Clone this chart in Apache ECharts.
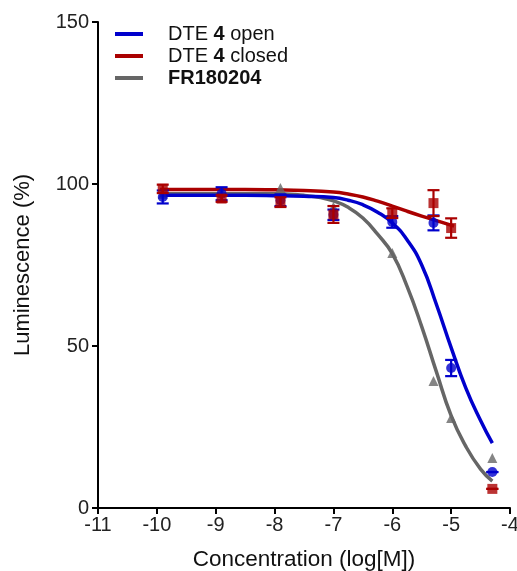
<!DOCTYPE html>
<html>
<head>
<meta charset="utf-8">
<script src="https://cdn.jsdelivr.net/npm/echarts@6/dist/echarts.min.js"></script>
<style>
html,body{margin:0;padding:0;background:#fff;}
#chart{width:517px;height:571px;}
</style>
</head>
<body>
<div id="chart"></div>
<script>
// ---- data ----
const seriesNames = ['DTE 4 open', 'DTE 4 closed', 'FR180204'];
const concLog = [-9.9, -8.9, -7.9, -7.0, -6.0, -5.3, -5.0, -4.3];

const openMean   = [96.0, 97.0, 95.0, 90.5, 88.3, 88.0, 43.2, 11.1];
const openErr    = [2.0, 2.0, 1.8, 1.6, 1.8, 2.3, 2.5, 0.0];
const closedMean = [98.5, 95.5, 94.4, 90.6, 91.0, 94.1, 86.4, 5.9];
const closedErr  = [1.3, 1.0, 1.5, 2.6, 1.5, 4.0, 3.0, 0.0];
const frMean     = [97.0, 97.5, 98.8, 93.0, 78.7, 39.2, 27.8, 15.4];

// fitted curves
const openCurveX   = [-9.95, -9.5, -9, -8.5, -8, -7.5, -7, -6.75, -6.5, -6.25, -6, -5.75, -5.5, -5.25, -5, -4.75, -4.5, -4.3];
const openCurveY   = [96.5, 96.5, 96.5, 96.5, 96.4, 96.2, 95.8, 95.0, 93.6, 91.3, 88, 82.8, 75, 62.8, 49.5, 37, 27, 20];
const closedCurveX = [-9.95, -9.5, -9, -8.5, -8, -7.5, -7, -6.75, -6.5, -6.25, -6, -5.75, -5.5, -5.25, -4.95];
const closedCurveY = [98.3, 98.3, 98.3, 98.3, 98.2, 98.0, 97.5, 96.9, 96.0, 94.7, 93.2, 91.6, 90.1, 88.7, 87];
const frCurveX     = [-9.95, -9.5, -9, -8.5, -8, -7.5, -7.25, -7, -6.75, -6.5, -6.25, -6, -5.75, -5.5, -5.25, -5, -4.75, -4.5, -4.3];
const frCurveY     = [97, 97, 97, 97, 97, 96.5, 95.9, 94.8, 92.8, 89.5, 84.5, 78.5, 68.5, 56, 42, 28.5, 19, 12, 8.3];

const xTicks = [-11, -10, -9, -8, -7, -6, -5, -4];
const yTicks = [0, 50, 100, 150];

const colors = { open: '#0000cc', closed: '#aa0000', fr: '#666666' };

function zip(xs, ys) { return xs.map((x, i) => [x, ys[i]]); }
function errData(xs, m, e) { return xs.map((x, i) => [x, m[i] - e[i], m[i] + e[i]]); }

function errRender(color) {
  return function (params, api) {
    const x = api.value(0);
    const lo = api.coord([x, api.value(1)]);
    const hi = api.coord([x, api.value(2)]);
    const w = 6;
    const st = { stroke: color, lineWidth: 2.2 };
    return {
      type: 'group',
      children: [
        { type: 'line', shape: { x1: lo[0], y1: lo[1], x2: hi[0], y2: hi[1] }, style: st },
        { type: 'line', shape: { x1: lo[0] - w, y1: lo[1], x2: lo[0] + w, y2: lo[1] }, style: st },
        { type: 'line', shape: { x1: hi[0] - w, y1: hi[1], x2: hi[0] + w, y2: hi[1] }, style: st }
      ]
    };
  };
}

const FONT = 'Liberation Sans, Arial, sans-serif';
const chart = echarts.init(document.getElementById('chart'), null, { renderer: 'canvas' });

chart.setOption({
  animation: false,
  backgroundColor: '#fff',
  grid: { left: 98, right: 7, top: 22, bottom: 63, containLabel: false, outerBoundsMode: 'none' },
  legend: {
    orient: 'vertical',
    left: 110,
    top: 19,
    itemWidth: 28,
    itemHeight: 4,
    itemGap: 2,
    data: [
      { name: seriesNames[0], icon: 'rect', itemStyle: { color: colors.open } },
      { name: seriesNames[1], icon: 'rect', itemStyle: { color: colors.closed } },
      { name: seriesNames[2], icon: 'rect', itemStyle: { color: colors.fr } }
    ],
    formatter: function (name) {
      if (name === 'FR180204') return '{b|FR180204}';
      return name.replace('4', '{b|4}').replace(/^(DTE )/, '{n|$1}').replace(/( open| closed)$/, '{n|$1}');
    },
    textStyle: {
      fontFamily: FONT, fontSize: 20, color: '#111',
      padding: [0, 0, 0, 20],
      rich: {
        n: { fontFamily: FONT, fontSize: 20, color: '#111' },
        b: { fontFamily: FONT, fontSize: 20, color: '#111', fontWeight: 'bold' }
      }
    }
  },
  xAxis: {
    type: 'value', min: -11, max: -4, interval: 1,
    name: 'Concentration (log[M])', nameLocation: 'middle', nameGap: 40,
    nameTextStyle: { fontFamily: FONT, fontSize: 22.5, color: '#111' },
    axisLine: { show: true, onZero: false, lineStyle: { color: '#000', width: 2 } },
    axisTick: { show: true, length: 6, lineStyle: { color: '#000', width: 2 } },
    axisLabel: { fontFamily: FONT, fontSize: 20, color: '#222', margin: 7,
      formatter: v => xTicks.includes(v) ? String(v) : '' },
    splitLine: { show: false }
  },
  yAxis: {
    type: 'value', min: 0, max: 150, interval: 50,
    name: 'Luminescence (%)', nameLocation: 'middle', nameGap: 64, nameRotate: 90,
    nameTextStyle: { fontFamily: FONT, fontSize: 22, color: '#111' },
    axisLine: { show: true, onZero: false, lineStyle: { color: '#000', width: 2 } },
    axisTick: { show: true, length: 6, lineStyle: { color: '#000', width: 2 } },
    axisLabel: { fontFamily: FONT, fontSize: 20, color: '#222', margin: 9,
      formatter: v => yTicks.includes(v) ? String(v) : '' },
    splitLine: { show: false }
  },
  series: [
    { name: seriesNames[2], type: 'line', data: zip(frCurveX, frCurveY), smooth: true, symbol: 'none',
      lineStyle: { color: colors.fr, width: 3.5 }, itemStyle: { color: colors.fr }, z: 2 },
    { name: seriesNames[0], type: 'line', data: zip(openCurveX, openCurveY), smooth: true, symbol: 'none',
      lineStyle: { color: colors.open, width: 3.5 }, itemStyle: { color: colors.open }, z: 3 },
    { name: seriesNames[1], type: 'line', data: zip(closedCurveX, closedCurveY), smooth: true, symbol: 'none',
      lineStyle: { color: colors.closed, width: 3.5 }, itemStyle: { color: colors.closed }, z: 4 },

    { name: 'fr-pts', type: 'scatter', data: zip(concLog, frMean), symbol: 'triangle', symbolSize: 10,
      itemStyle: { color: colors.fr }, z: 5 },
    { name: 'open-err', type: 'custom', data: errData(concLog, openMean, openErr), renderItem: errRender(colors.open), z: 6 },
    { name: 'open-pts', type: 'scatter', data: zip(concLog, openMean), symbol: 'circle', symbolSize: 10,
      itemStyle: { color: colors.open }, z: 6 },
    { name: 'closed-err', type: 'custom', data: errData(concLog, closedMean, closedErr), renderItem: errRender(colors.closed), z: 7 },
    { name: 'closed-pts', type: 'scatter', data: zip(concLog, closedMean), symbol: 'rect', symbolSize: 10,
      itemStyle: { color: colors.closed }, z: 7 }
  ]
});
</script>
</body>
</html>
